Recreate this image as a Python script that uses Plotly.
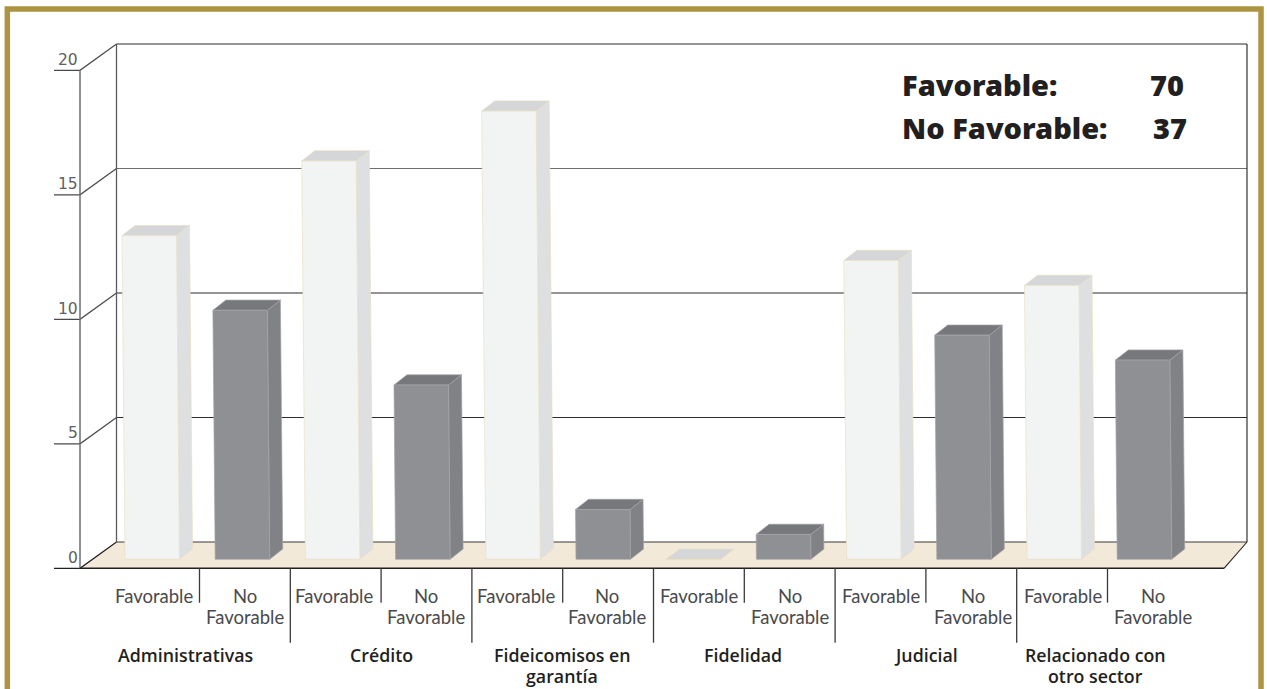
import plotly.graph_objects as go

# ---- data ----
categories = ["Administrativas", "Crédito", "Fideicomisos en<br>garantía", "Fidelidad", "Judicial",
              "Relacionado con<br>otro sector"]
series_names = ["Favorable", "No<br>Favorable"]
favorable = [13, 16, 18, 0, 12, 11]
no_favorable = [10, 7, 2, 1, 9, 8]
y_ticks = [0, 5, 10, 15, 20]
summary_labels = ["Favorable:", "No Favorable:"]
summary_values = ["70", "37"]

# ---- scale: full-page axes (1 slot = one bar, y in chart units) ----
W, H = 1267, 689
SLOT, UNIT = 90.2, 24.9
X0_PX, Y0_PX = 125.0, 559.3


def X(px):
    return (px - X0_PX) / SLOT


def Y(py):
    return (Y0_PX - py) / UNIT


BAR_W = 54.5 / SLOT
DX, DY = 13 / SLOT, 10.2 / UNIT          # bar depth
SLANT = 0.23 / SLOT                      # lean of the bars per unit
FRONT_Y = (Y0_PX - 568.3) / UNIT         # front wall y offset
BACK_Y = (Y0_PX - 542.0) / UNIT          # back wall y offset
LEFT_F, LEFT_B, RIGHT_F, RIGHT_B = X(80), X(116.5), X(1224), X(1247)
TICK_L = X(54)

fig = go.Figure()


def line(xs, ys, color, width=1.2):
    fig.add_trace(go.Scatter(x=xs, y=ys, mode="lines", line=dict(color=color, width=width),
                             hoverinfo="skip", showlegend=False))


def poly_trace(xs, ys, fill, edge, name):
    fig.add_trace(go.Scatter(x=xs, y=ys, mode="lines", fill="toself", fillcolor=fill,
                             line=dict(color=edge, width=0.7), name=name, hoverinfo="skip", showlegend=False))


# floor
fig.add_trace(go.Scatter(x=[LEFT_F, LEFT_B, RIGHT_B, RIGHT_F, LEFT_F],
                         y=[FRONT_Y, BACK_Y, BACK_Y, FRONT_Y, FRONT_Y],
                         mode="lines", fill="toself", fillcolor="#f2e9d8", line=dict(width=0),
                         hoverinfo="skip", showlegend=False))

# walls and grid
for t in y_ticks:
    line([LEFT_B, RIGHT_B], [t + BACK_Y] * 2, {15: "#6f6f72", 0: "#3a3a3a"}.get(t, "#2e2b2c"), 1.1)
    line([TICK_L, LEFT_F, LEFT_B], [t + FRONT_Y, t + FRONT_Y, t + BACK_Y],
         "#231f20" if t == 0 else "#4a4a4a", 1.2)
line([LEFT_F, LEFT_F], [y_ticks[0] + FRONT_Y, y_ticks[-1] + FRONT_Y], "#6e6e70", 1.5)
line([LEFT_B, LEFT_B], [y_ticks[0] + BACK_Y, y_ticks[-1] + BACK_Y], "#5a5a5c", 1.3)
line([RIGHT_B, RIGHT_B], [y_ticks[0] + BACK_Y, y_ticks[-1] + BACK_Y], "#231f20", 1.1)
line([RIGHT_F, RIGHT_B], [FRONT_Y, BACK_Y], "#231f20", 1.1)
line([LEFT_F, RIGHT_F], [FRONT_Y, FRONT_Y], "#231f20", 1.5)


def bars(values, offset, front, side, top, edge, name):
    fx, fy, sx, sy, tx, ty = [], [], [], [], [], []
    for i, v in enumerate(values):
        x = i * 2 + offset
        s = SLANT * v
        fx += [x, x + BAR_W, x + BAR_W - s, x - s, x, None]
        fy += [0, 0, v, v, 0, None]
        sx += [x + BAR_W, x + BAR_W + DX, x + BAR_W + DX - s, x + BAR_W - s, x + BAR_W, None]
        sy += [0, DY, v + DY, v, 0, None]
        tx += [x - s, x + BAR_W - s, x + BAR_W + DX - s, x + DX - s, x - s, None]
        ty += [v, v, v + DY, v + DY, v, None]
    poly_trace(sx, sy, side, edge, name + " lado")
    poly_trace(tx, ty, top, edge, name + " tapa")
    poly_trace(fx, fy, front, edge, name)


bars(favorable, 0, "#f2f4f3", "#dddfe1", "#d5d6d8", "#e8dfc6", "Favorable")
bars(no_favorable, 1, "#8f9094", "#818286", "#77787c", "#a3a4a7", "No Favorable")

# separators below the floor
for k in range(11):
    sx = X(199.5 + 90.8 * k)
    long_sep = k % 2 == 1
    line([sx, sx], [FRONT_Y, Y(642.7 if long_sep else 602.7)], "#3a3a3c", 1.3)

ann = []


def label(x_px, y_px, text, font):
    for n, part in enumerate(text.split("<br>")):
        ann.append(dict(x=X(x_px), y=Y(y_px + n * 21.5), text=part, xanchor="center", yanchor="middle",
                        showarrow=False, font=font))


for t in y_ticks:
    ann.append(dict(x=X(79.5), y=t + FRONT_Y + 10.4 / UNIT, text=str(t), xanchor="right", yanchor="middle",
                    showarrow=False, font=dict(family="DejaVu Sans", size=15.5, color="#606062")))
fav_c = [153.5, 334, 516, 699, 881, 1063]
nof_c = [245, 426, 607, 790, 973, 1153]
cat_c = [185, 381, 562, 743, 926, 1095]
tick_font = dict(family="Lato", size=18.5, color="#4a4a4c")
cat_font = dict(family="Open Sans", size=17.8, color="#231f20", weight=600)
for i, c in enumerate(categories):
    label(fav_c[i], 595.5, series_names[0], tick_font)
    label(nof_c[i], 595.5, series_names[1], tick_font)
    label(cat_c[i], 654.5, c, cat_font)
for lab, val, yy, xr in zip(summary_labels, summary_values, (84, 127), (1186, 1189)):
    ann.append(dict(x=X(900), y=Y(yy), text=lab, xanchor="left", yanchor="middle", showarrow=False,
                    font=dict(family="Noto Sans", size=29, color="#231f20", weight=900)))
    ann.append(dict(x=X(xr), y=Y(yy), text=val, xanchor="right", yanchor="middle", showarrow=False,
                    font=dict(family="Noto Sans", size=29, color="#231f20", weight=900)))

fig.update_layout(
    width=W, height=H, margin=dict(l=0, r=0, t=0, b=0), autosize=False,
    paper_bgcolor="white", plot_bgcolor="white", showlegend=False,
    xaxis=dict(range=[X(0), X(W)], visible=False, fixedrange=True),
    yaxis=dict(range=[Y(H), Y(0)], visible=False, fixedrange=True),
    annotations=ann,
    shapes=[dict(type="rect", xref="paper", yref="paper", x0=7.3 / W, x1=1261 / W, y0=-0.05, y1=1 - 9.0 / H,
                 line=dict(color="#ad9440", width=5.5), fillcolor="rgba(0,0,0,0)", layer="above")],
)
fig.write_html("out.html", config={"displayModeBar": False},
               post_script="document.body.style.margin='0';document.body.style.overflow='hidden';")
